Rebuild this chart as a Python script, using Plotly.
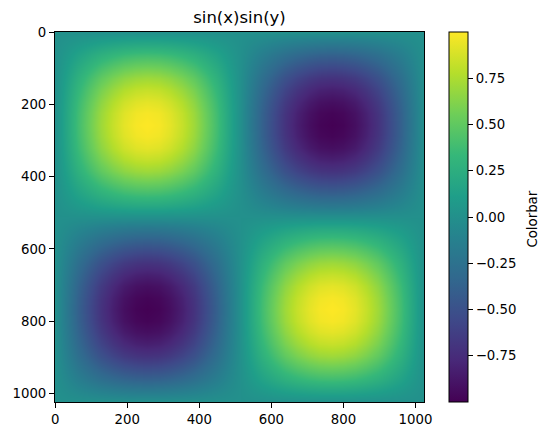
import numpy as np
import plotly.graph_objects as go

sample_pos = [0, 32, 64, 96, 128, 160, 192, 224, 256, 288, 320, 352, 384, 416, 448, 480, 512,
              543, 575, 607, 639, 671, 703, 735, 767, 799, 831, 863, 895, 927, 959, 991, 1023]
col_profile = [0, 0.195, 0.383, 0.556, 0.707, 0.831, 0.924, 0.981, 1.0, 0.981, 0.924, 0.831,
               0.707, 0.556, 0.383, 0.195, 0, -0.195, -0.383, -0.556, -0.707, -0.831, -0.924,
               -0.981, -1.0, -0.981, -0.924, -0.831, -0.707, -0.556, -0.383, -0.195, 0]
row_profile = [0, 0.195, 0.383, 0.556, 0.707, 0.831, 0.924, 0.981, 1.0, 0.981, 0.924, 0.831,
               0.707, 0.556, 0.383, 0.195, 0, -0.195, -0.383, -0.556, -0.707, -0.831, -0.924,
               -0.981, -1.0, -0.981, -0.924, -0.831, -0.707, -0.556, -0.383, -0.195, 0]

axis_ticks = [0, 200, 400, 600, 800, 1000]
cbar_ticks = [-0.75, -0.5, -0.25, 0, 0.25, 0.5, 0.75]
cbar_labels = ['\u22120.75', '\u22120.50', '\u22120.25', '0.00', '0.25', '0.50', '0.75']

z = np.outer(row_profile, col_profile)

font = dict(family='DejaVu Sans', size=13.3, color='black')

# page body adds an 8px offset, so the figure is 8px smaller and shifted
W, H = 541, 427

fig = go.Figure(go.Heatmap(
    z=z, x=sample_pos, y=sample_pos,
    colorscale='Viridis', zmin=-1, zmax=1, zsmooth='best',
    colorbar=dict(
        x=1.0678, xanchor='left', xref='paper', xpad=0, ypad=0,
        y=0.5, yanchor='middle', len=1, lenmode='fraction',
        thickness=19, thicknessmode='pixels',
        outlinewidth=1, outlinecolor='black',
        ticks='outside', ticklen=5, tickwidth=1, tickcolor='black',
        tickvals=cbar_ticks, ticktext=cbar_labels, tickfont=font,
    ),
))

axis_style = dict(
    showgrid=False, zeroline=False, showline=True, linecolor='black', linewidth=1,
    mirror=True, ticks='outside', ticklen=5, tickwidth=1, tickcolor='black',
    tickvals=axis_ticks, tickfont=font, automargin=False,
)

fig.update_xaxes(range=[-0.5, 1023.5], **axis_style)
fig.update_yaxes(range=[1023.5, -0.5], **axis_style)

# colorbar label placed by hand, further out than plotly's own title
fig.add_annotation(text='Colorbar', textangle=-90, showarrow=False,
                   x=1.2946, xref='paper', xanchor='center',
                   y=0.495, yref='paper', yanchor='middle', font=font)

fig.update_layout(
    width=W, height=H,
    margin=dict(l=47, r=125, t=24, b=33, autoexpand=False),
    paper_bgcolor='white', plot_bgcolor='white',
    font=font,
    title=dict(text='sin(x)sin(y)', x=0.5, xref='paper', xanchor='center',
               y=1 - 9.5 / H, yref='container', yanchor='middle',
               font=dict(family='DejaVu Sans', size=16.5, color='black')),
)

fig.write_html('out.html')
